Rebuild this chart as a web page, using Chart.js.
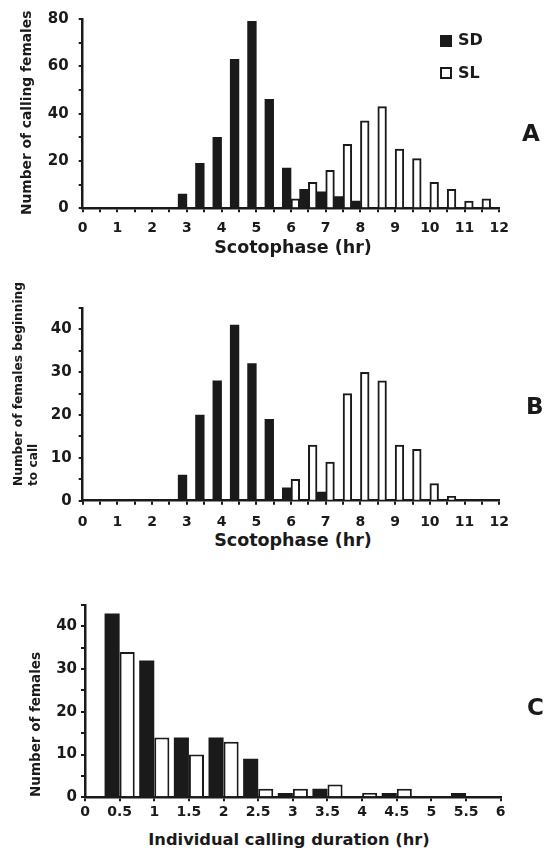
<!DOCTYPE html>
<html><head><meta charset="utf-8">
<script src="https://cdn.jsdelivr.net/npm/chart.js@4.4.1/dist/chart.umd.min.js"></script>
<style>
html,body{margin:0;padding:0;background:#fff}
body{width:544px;height:850px;position:relative;overflow:hidden;font-family:"DejaVu Sans",sans-serif;color:#1a1a1a}
canvas{position:absolute;left:0}
.t{position:absolute;white-space:nowrap;font-weight:bold;line-height:1}
.vr{transform-origin:0 0;transform:rotate(-90deg)}
.hc{transform:translate(-50%,-50%)}
.sq{position:absolute;width:12px;height:12px;box-sizing:border-box}
</style></head>
<body>
<canvas id="cA" width="544" height="240" style="top:0"></canvas>
<canvas id="cB" width="544" height="250" style="top:280px"></canvas>
<canvas id="cC" width="544" height="230" style="top:590px"></canvas>

<div class="t vr" style="left:20px;top:215px;font-size:13.8px">Number of calling females</div>
<div class="t hc" style="left:293px;top:248px;font-size:17.5px">Scotophase (hr)</div>
<div class="t" style="left:522px;top:122px;font-size:23px">A</div>
<div class="sq" style="left:440px;top:35px;background:#1a1a1a"></div>
<div class="t" style="left:458px;top:32px;font-size:16px">SD</div>
<div class="sq" style="left:440px;top:67px;border:2px solid #1a1a1a"></div>
<div class="t" style="left:458px;top:65px;font-size:16px">SL</div>

<div class="t vr" style="left:11px;top:486px;font-size:12.2px;line-height:15px">Number of females beginning<br>to call</div>
<div class="t hc" style="left:293px;top:541px;font-size:17.5px">Scotophase (hr)</div>
<div class="t" style="left:526px;top:395px;font-size:23px">B</div>

<div class="t vr" style="left:29px;top:797px;font-size:13.5px">Number of females</div>
<div class="t hc" style="left:289px;top:840px;font-size:16.3px">Individual calling duration (hr)</div>
<div class="t" style="left:527px;top:696px;font-size:23px">C</div>

<script>
// ---- data ----
const scotoHours = ["0","0.5","1","1.5","2","2.5","3","3.5","4","4.5","5","5.5","6","6.5","7","7.5","8","8.5","9","9.5","10","10.5","11","11.5","12"];
const callingSD  = [0,0,0,0,0,0,6,19,30,63,79,46,17,8,7,5,3,0,0,0,0,0,0,0,0];
const callingSL  = [0,0,0,0,0,0,0,0,0,0,0,0,4,11,16,27,37,43,25,21,11,8,3,4,0];
const onsetSD    = [0,0,0,0,0,0,6,20,28,41,32,19,3,0,2,0,0,0,0,0,0,0,0,0,0];
const onsetSL    = [0,0,0,0,0,0,0,0,0,0,0,0,5,13,9,25,30,28,13,12,4,1,0,0,0];
const durationHours = ["0","0.5","1","1.5","2","2.5","3","3.5","4","4.5","5","5.5","6"];
const durationSD = [0,43,32,14,14,9,1,2,0,1,0,1,0];
const durationSL = [0,34,14,10,13,2,2,3,1,2,0,0,0];

const INK = '#1a1a1a';
const FONT = 'DejaVu Sans';

function makeChart(id, labels, sd, sl, c) {
  return new Chart(document.getElementById(id), {
    type: 'bar',
    data: {
      labels: labels,
      datasets: [
        {label: 'SD', data: sd, backgroundColor: INK, borderColor: INK, borderWidth: 0,
         categoryPercentage: c.catPct, barPercentage: 1},
        {label: 'SL', data: sl, backgroundColor: '#fff', borderColor: INK, borderWidth: 2,
         categoryPercentage: c.catPct, barPercentage: 1}
      ]
    },
    options: {
      responsive: false, animation: false, devicePixelRatio: 1,
      layout: {padding: {top: c.top, right: c.right, bottom: 0, left: 0}},
      plugins: {legend: {display: false}, tooltip: {enabled: false}},
      scales: {
        x: {
          z: 1, offset: false,
          grid: {offset: false, drawOnChartArea: false, drawTicks: true, tickLength: 4, tickWidth: 2, lineWidth: 2, color: INK},
          border: {display: true, width: 2.5, color: INK},
          ticks: {autoSkip: false, maxRotation: 0, minRotation: 0, padding: c.xpad, color: INK,
                  font: {family: FONT, size: c.xfs, weight: 'bold'},
                  callback: (v, i) => c.xlab(labels[i])},
          afterFit: s => { s.height = c.xh; }
        },
        y: {
          z: 1, min: 0, max: c.ymax,
          grid: {drawOnChartArea: false, drawTicks: true, tickLength: 4, tickWidth: 2, lineWidth: 2, color: INK},
          border: {display: true, width: 2.5, color: INK},
          ticks: {stepSize: c.step, padding: c.ypad, color: INK,
                  font: {family: FONT, size: c.yfs, weight: 'bold'},
                  callback: v => (v % c.labStep === 0 ? String(v) : '')},
          afterFit: s => { s.width = c.yw; }
        }
      }
    }
  });
}

const intOnly = l => (Number(l) % 1 === 0 ? l : '');

makeChart('cA', scotoHours, callingSD, callingSL,
  {catPct: 1, top: 17, right: 44.7, xh: 31.7, yw: 82.7, ymax: 80, step: 10, labStep: 20,
   xpad: 8, ypad: 10, xfs: 14, yfs: 15, xlab: intOnly});
makeChart('cB', scotoHours, onsetSD, onsetSL,
  {catPct: 1, top: 28, right: 44.7, xh: 29.3, yw: 82.7, ymax: 45, step: 5, labStep: 10,
   xpad: 9, ypad: 7, xfs: 14, yfs: 15, xlab: intOnly});
makeChart('cC', durationHours, durationSD, durationSL,
  {catPct: 0.87, top: 15, right: 43.3, xh: 22.7, yw: 85, ymax: 45, step: 5, labStep: 10,
   xpad: 3, ypad: 4, xfs: 14, yfs: 15, xlab: l => l});
</script>
</body></html>
